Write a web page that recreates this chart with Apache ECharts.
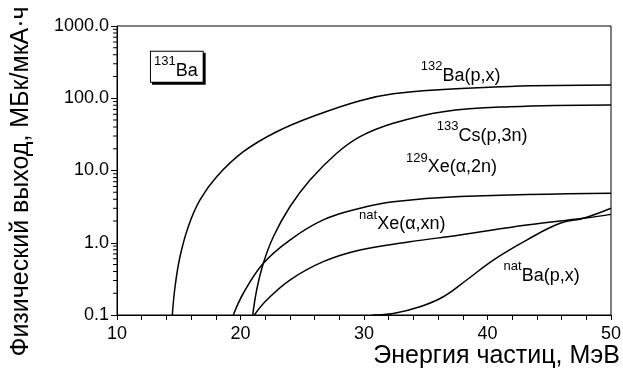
<!DOCTYPE html>
<html>
<head>
<meta charset="utf-8">
<script src="https://cdn.jsdelivr.net/npm/echarts@6/dist/echarts.min.js"></script>
<style>
    html, body { margin: 0; padding: 0; background: #fff; }
    #chart { width: 623px; height: 378px; }
</style>
</head>
<body>
<div id="chart"></div>
<script>
    // данные (энергия, МэВ / выход, МБк/мкА·ч)
    const ba132_x = [14.48, 14.70, 15.10, 15.77, 16.72, 18.07, 20.23, 22.93, 26.17, 29.68, 32.37, 36.4, 41.8, 50];
    const ba132_y = [0.1, 0.246, 0.64, 1.67, 3.91, 8.2, 18.2, 34.4, 58.6, 92.5, 115, 132, 146, 152];

    const cs133_x = [20.99, 21.31, 21.85, 22.66, 24.0, 25.63, 27.79, 29.68, 32.37, 36.42, 41.82, 50];
    const cs133_y = [0.1, 0.222, 0.52, 1.21, 3.15, 7.38, 17.3, 29.4, 45, 65.2, 76.4, 80.8];

    const xe129_x = [19.42, 20.23, 21.85, 24.0, 26.7, 29.68, 32.37, 37.77, 50];
    const xe129_y = [0.1, 0.2, 0.52, 1.09, 2.07, 3.0, 3.7, 4.35, 4.83];

    const xenat_x = [21.12, 22.12, 24.0, 26.7, 29.68, 33.72, 37.77, 43.17, 47.76, 50];
    const xenat_y = [0.1, 0.161, 0.305, 0.547, 0.794, 1.03, 1.28, 1.76, 2.18, 2.47];

    const banat_x = [30.7, 32.37, 34.53, 36.42, 38.31, 40.47, 43.17, 45.87, 47.76, 50];
    const banat_y = [0.1, 0.105, 0.13, 0.179, 0.305, 0.577, 1.09, 1.86, 2.18, 3.0];

    const xTicks = [10, 20, 30, 40, 50];
    const yMinorTicks = [0.2, 0.3, 0.4, 0.5, 0.6, 0.7, 0.8, 0.9,
        2, 3, 4, 5, 6, 7, 8, 9,
        20, 30, 40, 50, 60, 70, 80, 90,
        200, 300, 400, 500, 600, 700, 800, 900];

    // подписи кривых: [энергия, выход] левого края текста
    const labelText = ['{sup|132}{main|Ba(p,x)}', '{sup|133}{main|Cs(p,3n)}', '{sup|129}{main|Xe(α,2n)}',
        '{sup|nat}{main|Xe(α,xn)}', '{sup|nat}{main|Ba(p,x)}'];
    const labelPos = [[34.6, 230], [35.9, 34], [33.4, 12.3], [29.6, 2.0], [41.3, 0.39]];
    const boxText = '{sup|131}{main|Ba}';
    const boxPos = [12.75, 272];

    function pairs(xs, ys) {
        const out = [];
        for (let i = 0; i < xs.length; i++) {
            out.push([xs[i], ys[i]]);
        }
        return out;
    }

    const FONT = '"Liberation Sans", Arial, sans-serif';

    const rich = {
        sup: { fontSize: 13, fontFamily: FONT, color: '#000', verticalAlign: 'top', lineHeight: 13 },
        main: { fontSize: 18, fontFamily: FONT, color: '#000', verticalAlign: 'bottom', lineHeight: 25 }
    };
    const richHidden = {
        sup: { fontSize: 13, fontFamily: FONT, color: 'transparent', verticalAlign: 'top', lineHeight: 13 },
        main: { fontSize: 18, fontFamily: FONT, color: 'transparent', verticalAlign: 'bottom', lineHeight: 25 }
    };

    function curve(name, xs, ys) {
        return {
            name: name,
            type: 'line',
            data: pairs(xs, ys),
            smooth: 0.4,
            showSymbol: false,
            symbol: 'none',
            clip: true,
            lineStyle: { color: '#000', width: 1.5 },
            z: 3
        };
    }

    function boxLabel(richStyle, bg, offset, z) {
        return {
            type: 'scatter',
            symbolSize: 0,
            silent: true,
            clip: false,
            itemStyle: { opacity: 1 },
            data: [{ value: boxPos, label: { formatter: boxText } }],
            label: {
                show: true,
                position: 'right',
                distance: 0,
                offset: offset,
                opacity: 1,
                rich: richStyle,
                backgroundColor: bg,
                borderColor: '#000',
                borderWidth: 1,
                padding: [3, 5, 2, 3]
            },
            z: z
        };
    }

    const chart = echarts.init(document.getElementById('chart'));

    const option = {
        animation: false,
        textStyle: { fontFamily: FONT },
        grid: {
            left: 117,
            right: 12,
            top: 26,
            bottom: 63,
            outerBoundsMode: 'none',
            containLabel: false,
            show: true,
            borderColor: '#000',
            borderWidth: 1,
            backgroundColor: 'transparent'
        },
        xAxis: {
            type: 'value',
            min: 10,
            max: 50,
            interval: 10,
            name: 'Энергия частиц, МэВ',
            nameLocation: 'end',
            nameGap: 9,
            nameMoveOverlap: false,
            nameTextStyle: {
                fontSize: 25,
                color: '#000',
                align: 'right',
                verticalAlign: 'top',
                padding: [29, 0, 0, 0]
            },
            axisLine: { lineStyle: { color: '#000', width: 1 } },
            axisTick: { show: true, inside: false, length: 5, lineStyle: { color: '#000' } },
            minorTick: { show: true, splitNumber: 5, length: 5, lineStyle: { color: '#000' } },
            splitLine: { show: false },
            axisLabel: {
                color: '#000',
                fontSize: 18,
                margin: 10,
                customValues: xTicks
            }
        },
        yAxis: {
            type: 'log',
            logBase: 10,
            min: 0.1,
            max: 1000,
            name: 'Физический выход, МБк/мкА·ч',
            nameLocation: 'middle',
            nameGap: 83,
            nameMoveOverlap: false,
            nameTextStyle: {
                fontSize: 25,
                color: '#000',
                padding: [0, 22, 0, 0]
            },
            axisLine: { show: true, lineStyle: { color: '#000', width: 1 } },
            axisTick: { show: true, inside: false, length: 6, lineStyle: { color: '#000' } },
            splitLine: { show: false },
            axisLabel: {
                color: '#000',
                fontSize: 18,
                margin: 8,
                formatter: function (v) {
                    return Number(v).toFixed(1);
                }
            }
        },
        series: [
            curve('132Ba(p,x)', ba132_x, ba132_y),
            curve('133Cs(p,3n)', cs133_x, cs133_y),
            curve('129Xe(a,2n)', xe129_x, xe129_y),
            curve('natXe(a,xn)', xenat_x, xenat_y),
            curve('natBa(p,x)', banat_x, banat_y),
            {
                // логарифмические промежуточные деления оси Y
                type: 'custom',
                clip: false,
                silent: true,
                data: yMinorTicks.map(function (v) { return [10, v]; }),
                renderItem: function (params, api) {
                    const p = api.coord([10, api.value(1)]);
                    return {
                        type: 'line',
                        shape: { x1: p[0] - 4, y1: p[1], x2: p[0], y2: p[1] },
                        style: { stroke: '#000', lineWidth: 1 }
                    };
                },
                z: 4
            },
            {
                type: 'scatter',
                symbolSize: 0,
                silent: true,
                clip: false,
                itemStyle: { opacity: 1 },
                data: labelPos.map(function (p, i) {
                    return { value: p, label: { formatter: labelText[i] } };
                }),
                label: {
                    show: true,
                    position: 'right',
                    distance: 0,
                    opacity: 1,
                    rich: rich
                },
                z: 5
            },
            // рамка 131Ba с тенью
            boxLabel(richHidden, '#000', [2, 2], 5),
            boxLabel(rich, '#fff', [0, 0], 6)
        ]
    };

    chart.setOption(option);
</script>
</body>
</html>
